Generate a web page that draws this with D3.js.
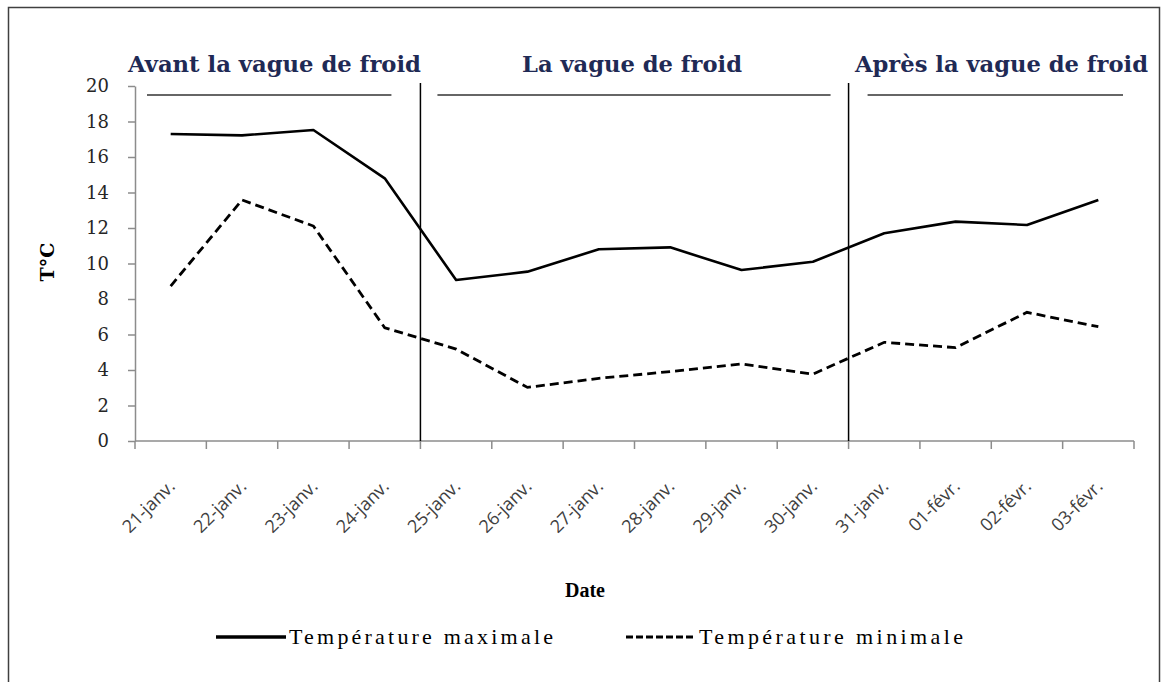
<!DOCTYPE html>
<html>
<head>
<meta charset="utf-8">
<script src="https://cdn.jsdelivr.net/npm/d3@7"></script>
<style>
    body { margin: 0; background: #fff; }
    svg { display: block; }
</style>
</head>
<body>
<div id="chart"></div>
<script>
// Data
const dates = ['21-janv.', '22-janv.', '23-janv.', '24-janv.', '25-janv.', '26-janv.', '27-janv.',
    '28-janv.', '29-janv.', '30-janv.', '31-janv.', '01-févr.', '02-févr.', '03-févr.'];
const tMax = [17.3, 17.22, 17.52, 14.8, 9.07, 9.54, 10.8, 10.91, 9.63, 10.1, 11.7, 12.36, 12.17, 13.58];
const tMin = [8.73, 13.58, 12.11, 6.38, 5.18, 3.02, 3.53, 3.91, 4.34, 3.77, 5.56, 5.26, 7.25, 6.44];
const yTicks = [0, 2, 4, 6, 8, 10, 12, 14, 16, 18, 20];
const periods = [
    { label: 'Avant la vague de froid', from: 0, to: 4 },
    { label: 'La vague de froid', from: 4, to: 10 },
    { label: 'Après la vague de froid', from: 10, to: 14 },
];

const totalWidth = 1165;
const totalHeight = 682;
const margin = { top: 86, right: 31, bottom: 241, left: 135 };
const width = totalWidth - margin.left - margin.right;
const height = totalHeight - margin.top - margin.bottom;

const svg = d3.select('#chart')
    .append('svg')
    .attr('width', totalWidth)
    .attr('height', totalHeight);

// outer frame
svg.append('rect')
    .attr('x', 8.5).attr('y', 7.5)
    .attr('width', 1151).attr('height', 700)
    .attr('fill', 'none')
    .attr('stroke', '#404040')
    .attr('stroke-width', 1.5);

const g = svg.append('g').attr('transform', `translate(${margin.left},${margin.top})`);

const x = d3.scaleBand().domain(dates).range([0, width]);
const y = d3.scaleLinear().domain([0, 20]).range([height, 0]);
const cx = d => x(d) + x.bandwidth() / 2;
// edge of band i (i can equal dates.length)
const edge = i => i * x.step();

// y axis
const yAxis = g.append('g')
    .call(d3.axisLeft(y).tickValues(yTicks).tickSize(7).tickSizeOuter(0));
yAxis.select('.domain').attr('stroke', '#8c8c8c').attr('stroke-width', 1.5);
yAxis.selectAll('.tick line').attr('stroke', '#8c8c8c').attr('stroke-width', 1.5);
yAxis.selectAll('.tick text')
    .attr('x', -26)
    .attr('font-family', 'DejaVu Serif, serif')
    .attr('font-size', 18)
    .attr('fill', '#262626');

// x axis: ticks at category boundaries
const xAxis = g.append('g').attr('transform', `translate(0,${height})`);
xAxis.append('line')
    .attr('x1', 0).attr('x2', width)
    .attr('stroke', '#8c8c8c').attr('stroke-width', 1.5);
xAxis.selectAll('.xtick')
    .data(d3.range(dates.length + 1))
    .join('line')
    .attr('class', 'xtick')
    .attr('x1', d => edge(d)).attr('x2', d => edge(d))
    .attr('y1', 0).attr('y2', 8)
    .attr('stroke', '#8c8c8c').attr('stroke-width', 1.5);
xAxis.selectAll('.xlabel')
    .data(dates)
    .join('text')
    .attr('class', 'xlabel')
    .attr('transform', d => `translate(${cx(d) + 1},${42}) rotate(-45)`)
    .attr('text-anchor', 'end')
    .attr('dy', '0.35em')
    .attr('font-family', 'Open Sans, sans-serif')
    .attr('font-size', 18)
    .attr('fill', '#404040')
    .text(d => d);

// period separators
g.selectAll('.sep')
    .data([4, 10])
    .join('line')
    .attr('class', 'sep')
    .attr('x1', d => edge(d)).attr('x2', d => edge(d))
    .attr('y1', -3).attr('y2', height)
    .attr('stroke', '#000').attr('stroke-width', 1.5);

// period titles and rules
const ruleInset = [[12, 29], [17, 18], [19, 11]];
periods.forEach((p, i) => {
    const x0 = edge(p.from), x1 = edge(p.to);
    g.append('line')
        .attr('x1', x0 + ruleInset[i][0]).attr('x2', x1 - ruleInset[i][1])
        .attr('y1', 9).attr('y2', 9)
        .attr('stroke', '#333').attr('stroke-width', 1.6);
});
const titleX = [274.5, 632, 1001.5];
const titleW = [293, 220, 293];
periods.forEach((p, i) => {
    svg.append('text')
        .attr('x', titleX[i]).attr('y', 72)
        .attr('text-anchor', 'middle')
        .attr('font-family', 'DejaVu Serif, serif')
        .attr('font-weight', 'bold')
        .attr('font-size', 22)
        .attr('textLength', titleW[i])
        .attr('lengthAdjust', 'spacingAndGlyphs')
        .attr('fill', '#1f2a55')
        .text(p.label);
});

// lines
const line = d3.line().x((d, i) => cx(dates[i])).y(d => y(d));
g.append('path')
    .datum(tMax)
    .attr('d', line)
    .attr('fill', 'none')
    .attr('stroke', '#000')
    .attr('stroke-width', 2.6)
    .attr('stroke-linejoin', 'round');
g.append('path')
    .datum(tMin)
    .attr('d', line)
    .attr('fill', 'none')
    .attr('stroke', '#000')
    .attr('stroke-width', 2.8)
    .attr('stroke-dasharray', '9,5');

// axis titles
svg.append('text')
    .attr('transform', 'translate(54,262) rotate(-90)')
    .attr('text-anchor', 'middle')
    .attr('font-family', 'DejaVu Serif, serif')
    .attr('font-weight', 'bold')
    .attr('font-size', 19)
    .attr('fill', '#000')
    .text('T°C');
svg.append('text')
    .attr('x', 585).attr('y', 597)
    .attr('text-anchor', 'middle')
    .attr('font-family', 'Liberation Serif, serif')
    .attr('font-weight', 'bold')
    .attr('font-size', 20)
    .attr('fill', '#000')
    .text('Date');

// legend
const legend = [
    { label: 'Température maximale', x: 216, dash: null, w: 3.5 },
    { label: 'Température minimale', x: 626, dash: '7,3', w: 3 },
];
legend.forEach(l => {
    svg.append('line')
        .attr('x1', l.x).attr('x2', l.x + 70)
        .attr('y1', 637).attr('y2', 637)
        .attr('stroke', '#000').attr('stroke-width', l.w)
        .attr('stroke-dasharray', l.dash);
    svg.append('text')
        .attr('x', l.x + 73).attr('y', 644)
        .attr('font-family', 'Liberation Serif, serif')
        .attr('font-size', 22)
        .attr('textLength', 264)
        .attr('lengthAdjust', 'spacing')
        .attr('fill', '#000')
        .text(l.label);
});
</script>
</body>
</html>
